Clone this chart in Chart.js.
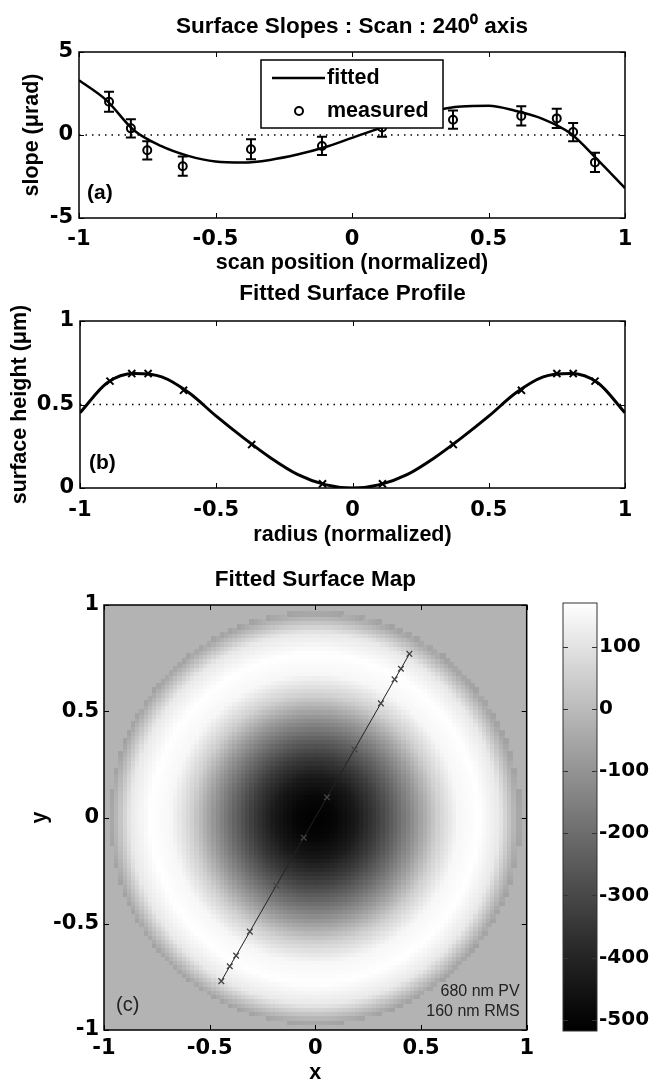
<!DOCTYPE html>
<html>
<head>
<meta charset="utf-8">
<script src="https://cdn.jsdelivr.net/npm/chart.js@4.4.0/dist/chart.umd.min.js"></script>
<style>
  html, body { margin: 0; padding: 0; background: #fff; overflow: hidden; }
  body { width: 650px; height: 1085px; position: relative; }
  canvas { position: absolute; }
  #slopeChart { left: 0; top: 0; }
  #profileChart { left: 0; top: 280px; }
  #mapChart { left: 0; top: 550px; }
  #barChart { left: 540px; top: 580px; }
</style>
</head>
<body>
<canvas id="slopeChart" width="650" height="280"></canvas>
<canvas id="profileChart" width="650" height="270"></canvas>
<canvas id="mapChart" width="540" height="540"></canvas>
<canvas id="barChart" width="110" height="470"></canvas>
<script>
// ---- data ----
const scanPos = [-0.89, -0.81, -0.75, -0.62, -0.37, -0.11, 0.11, 0.37, 0.62, 0.75, 0.81, 0.89];
const slopeMeasured = [2.0, 0.4, -0.92, -1.88, -0.86, -0.66, 0.45, 0.92, 1.15, 1.0, 0.18, -1.65];
const slopeError = [0.6, 0.55, 0.55, 0.58, 0.6, 0.55, 0.55, 0.55, 0.58, 0.58, 0.55, 0.58];

const fitPos = [-1, -0.9, -0.8, -0.7, -0.6, -0.5, -0.4, -0.3, -0.2, -0.1, 0,
                0.1, 0.2, 0.3, 0.4, 0.5, 0.6, 0.7, 0.8, 0.9, 1];
const slopeFitted = [3.3, 2.1, 0.3, -0.66, -1.26, -1.6, -1.66, -1.5, -1.18, -0.74, -0.17,
                     0.4, 0.95, 1.45, 1.72, 1.76, 1.45, 0.96, 0.1, -1.5, -3.2];
const profileHeight = [0.45, 0.63, 0.685, 0.665, 0.57, 0.43, 0.3, 0.18, 0.08, 0.02, 0.0,
                       0.02, 0.08, 0.18, 0.3, 0.43, 0.57, 0.665, 0.685, 0.63, 0.45];
const markerHeight = [0.64, 0.685, 0.685, 0.585, 0.26, 0.025, 0.025, 0.26, 0.585, 0.685, 0.685, 0.64];

// scan line across the map (240 deg axis)
const mapMarkX = [-0.445, -0.405, -0.375, -0.31, -0.185, -0.055, 0.055, 0.185, 0.31, 0.375, 0.405, 0.445];
const mapMarkY = [-0.77, -0.70, -0.65, -0.537, -0.32, -0.095, 0.095, 0.32, 0.537, 0.65, 0.70, 0.77];

const posTicks = [-1, -0.5, 0, 0.5, 1];
const slopeTicks = [-5, 0, 5];
const heightTicks = [0, 0.5, 1];
const colorTicks = [-500, -400, -300, -200, -100, 0, 100];

const colorMin = -518, colorMax = 170;   // nm, colorbar range
const mapOffsetNm = 515;                 // height at centre -> map value
const diskRadius = 0.97;
const gridStep = 0.02;

// ---- styles ----
const tickFont = { family: 'DejaVu Sans', size: 21, weight: 'bold' };
const labelFont = { family: 'Liberation Sans, Arial, sans-serif', size: 21.5, weight: 'bold' };
const titleFont = { family: 'Liberation Sans, Arial, sans-serif', size: 22.5, weight: 'bold' };
const grayGamma = 1.1;

function grayFor(v) {
    let t = (v - colorMin) / (colorMax - colorMin);
    t = Math.max(0, Math.min(1, t));
    const g = Math.round(255 * Math.pow(t, grayGamma));
    return `rgb(${g},${g},${g})`;
}

const radialPos = fitPos.slice(10);
const radialHeight = profileHeight.slice(10);
function heightAt(r) {
    for (let k = 1; k < radialPos.length; k++) {
        if (r <= radialPos[k]) {
            const t = (r - radialPos[k - 1]) / (radialPos[k] - radialPos[k - 1]);
            return radialHeight[k - 1] + t * (radialHeight[k] - radialHeight[k - 1]);
        }
    }
    return radialHeight[radialHeight.length - 1];
}

function xAxis(ticks, title, height, pad) {
    return {
        type: 'linear', min: -1, max: 1,
        afterBuildTicks: s => { s.ticks = ticks.map(v => ({ value: v })); },
        afterFit: s => { s.height = height; },
        grid: { display: false, drawTicks: false },
        border: { display: false },
        ticks: { color: '#000', font: tickFont, padding: pad, maxRotation: 0, autoSkip: false, callback: v => String(v) },
        title: { display: !!title, text: title, color: '#000', font: labelFont, padding: 0 }
    };
}

function yAxis(ticks, min, max, title, width, titlePad, pad) {
    return {
        type: 'linear', min: min, max: max,
        afterBuildTicks: s => { s.ticks = ticks.map(v => ({ value: v })); },
        afterFit: s => { s.width = width; },
        grid: { display: false, drawTicks: false },
        border: { display: false },
        ticks: { color: '#000', font: tickFont, padding: pad, autoSkip: false, callback: v => String(v) },
        title: { display: !!title, text: title, color: '#000', font: labelFont, padding: { top: titlePad, bottom: 0 } }
    };
}

// box round the plot with inward ticks on all sides
const framePlugin = {
    id: 'frame',
    afterDatasetsDraw(chart, args, opts) {
        const { ctx, chartArea: a, scales } = chart;
        const len = 5;
        ctx.save();
        ctx.strokeStyle = opts.color || '#000';
        ctx.lineWidth = 1;
        ctx.beginPath();
        if (opts.xTicks !== false) {
            scales.x.ticks.forEach(t => {
                const px = Math.round(scales.x.getPixelForValue(t.value)) + 0.5;
                ctx.moveTo(px, a.bottom); ctx.lineTo(px, a.bottom - len);
                ctx.moveTo(px, a.top); ctx.lineTo(px, a.top + len);
            });
        }
        scales.y.ticks.forEach(t => {
            const py = Math.round(scales.y.getPixelForValue(t.value)) + 0.5;
            ctx.moveTo(a.left, py); ctx.lineTo(a.left + len, py);
            ctx.moveTo(a.right, py); ctx.lineTo(a.right - len, py);
        });
        ctx.stroke();
        ctx.lineWidth = opts.width || 1.5;
        ctx.strokeRect(a.left, a.top, a.width, a.height);
        ctx.restore();
    }
};

const errorBarPlugin = {
    id: 'errorBars',
    afterDatasetsDraw(chart) {
        const { ctx, scales: { x, y } } = chart;
        chart.data.datasets.forEach(ds => {
            if (!ds.errors) return;
            ctx.save();
            ctx.strokeStyle = '#000';
            ctx.lineWidth = 2;
            ds.data.forEach((p, i) => {
                const px = x.getPixelForValue(p.x);
                const top = y.getPixelForValue(p.y + ds.errors[i]);
                const bot = y.getPixelForValue(p.y - ds.errors[i]);
                ctx.beginPath();
                ctx.moveTo(px, top); ctx.lineTo(px, bot);
                ctx.moveTo(px - 5, top); ctx.lineTo(px + 5, top);
                ctx.moveTo(px - 5, bot); ctx.lineTo(px + 5, bot);
                ctx.stroke();
            });
            ctx.restore();
        });
    }
};

// boxed legend inside the slope plot
const legendBoxPlugin = {
    id: 'legendBox',
    afterDraw(chart, args, o) {
        const { ctx, chartArea: a } = chart;
        const left = a.left + o.left, top = a.top + o.top;
        const fit = chart.data.datasets[0], meas = chart.data.datasets[1];
        ctx.save();
        ctx.fillStyle = '#fff';
        ctx.fillRect(left, top, o.width, o.height);
        ctx.strokeStyle = '#000';
        ctx.lineWidth = 1.5;
        ctx.strokeRect(left, top, o.width, o.height);
        ctx.lineWidth = fit.borderWidth;
        ctx.beginPath();
        ctx.moveTo(left + 11, top + 18); ctx.lineTo(left + 64, top + 18);
        ctx.stroke();
        ctx.lineWidth = 2;
        ctx.beginPath();
        ctx.arc(left + 38, top + 51, 4, 0, Math.PI * 2);
        ctx.stroke();
        ctx.fillStyle = '#000';
        ctx.font = `bold ${labelFont.size}px ${labelFont.family}`;
        ctx.textBaseline = 'middle';
        ctx.fillText(fit.label, left + 66, top + 18);
        ctx.fillText(meas.label, left + 66, top + 51);
        ctx.restore();
    }
};

const panelTextPlugin = {
    id: 'panelText',
    afterDraw(chart, args, o) {
        const { ctx, chartArea: a } = chart;
        ctx.save();
        (o.items || []).forEach(it => {
            ctx.font = it.font;
            ctx.fillStyle = it.color || '#000';
            ctx.textBaseline = 'middle';
            ctx.textAlign = it.right ? 'right' : 'left';
            const x = it.right ? a.right - it.dx : a.left + it.dx;
            ctx.fillText(it.text, x, a.bottom - it.dy);
        });
        ctx.restore();
    }
};

// grayscale surface map cells, placed through the chart scales
const surfacePlugin = {
    id: 'surface',
    beforeDatasetsDraw(chart) {
        const { ctx, chartArea: a, scales: { x, y } } = chart;
        ctx.save();
        ctx.beginPath();
        ctx.rect(a.left, a.top, a.width, a.height);
        ctx.clip();
        ctx.fillStyle = '#b3b3b3';
        ctx.fillRect(a.left, a.top, a.width, a.height);
        const n = Math.round(2 / gridStep);
        for (let i = 0; i <= n; i++) {
            const cx = -1 + i * gridStep;
            const x0 = x.getPixelForValue(cx - gridStep / 2);
            const x1 = x.getPixelForValue(cx + gridStep / 2);
            for (let j = 0; j <= n; j++) {
                const cy = -1 + j * gridStep;
                const r = Math.hypot(cx, cy);
                if (r > diskRadius) continue;
                const v = heightAt(r / diskRadius) * 1000 - mapOffsetNm;
                const y0 = y.getPixelForValue(cy + gridStep / 2);
                const y1 = y.getPixelForValue(cy - gridStep / 2);
                ctx.fillStyle = grayFor(v);
                ctx.fillRect(Math.floor(x0), Math.floor(y0), Math.ceil(x1 - x0) + 1, Math.ceil(y1 - y0) + 1);
            }
        }
        ctx.restore();
    }
};

const gradientPlugin = {
    id: 'gradientBar',
    beforeDatasetsDraw(chart) {
        const { ctx, chartArea: a, scales: { y } } = chart;
        const steps = 40;
        const g = ctx.createLinearGradient(0, y.getPixelForValue(colorMin), 0, y.getPixelForValue(colorMax));
        for (let k = 0; k <= steps; k++) {
            g.addColorStop(k / steps, grayFor(colorMin + (colorMax - colorMin) * k / steps));
        }
        ctx.save();
        ctx.fillStyle = g;
        ctx.fillRect(a.left, a.top, a.width, a.height);
        ctx.restore();
    }
};

const common = {
    responsive: false,
    animation: false,
    events: []
};

// (a) surface slopes
new Chart(document.getElementById('slopeChart'), {
    type: 'scatter',
    data: {
        datasets: [
            {
                label: 'fitted', type: 'line',
                data: fitPos.map((x, i) => ({ x, y: slopeFitted[i] })),
                borderColor: '#000', borderWidth: 2.5, pointRadius: 0,
                cubicInterpolationMode: 'monotone', fill: false
            },
            {
                label: 'measured',
                data: scanPos.map((x, i) => ({ x, y: slopeMeasured[i] })),
                errors: slopeError,
                pointStyle: 'circle', pointRadius: 4, borderWidth: 2,
                borderColor: '#000', backgroundColor: 'rgba(0,0,0,0)'
            },
            {
                label: 'zero', type: 'line',
                data: [{ x: -1, y: 0 }, { x: 1, y: 0 }],
                borderColor: '#000', borderWidth: 1.5, borderDash: [1.5, 5], pointRadius: 0
            }
        ]
    },
    options: {
        ...common,
        layout: { padding: { left: 0, right: 25, top: 0, bottom: 4 } },
        scales: {
            x: xAxis(posTicks, 'scan position (normalized)', 58, 9),
            y: yAxis(slopeTicks, -5, 5, 'slope (\u03bcrad)', 79, 19.1, 6)
        },
        plugins: {
            legend: { display: false },
            tooltip: { enabled: false },
            title: {
                display: true, fullSize: false, color: '#000',
                text: 'Surface Slopes : Scan : 240\u2070 axis',
                font: titleFont, padding: { top: 13.5, bottom: 11.5 }
            },
            legendBox: { left: 182, top: 8, width: 182, height: 68 },
            panelText: { items: [{ text: '(a)', dx: 8, dy: 25, font: `bold 21px ${labelFont.family}` }] }
        }
    },
    plugins: [errorBarPlugin, framePlugin, legendBoxPlugin, panelTextPlugin]
});

// (b) fitted surface profile
new Chart(document.getElementById('profileChart'), {
    type: 'scatter',
    data: {
        datasets: [
            {
                label: 'profile', type: 'line',
                data: fitPos.map((x, i) => ({ x, y: profileHeight[i] })),
                borderColor: '#000', borderWidth: 3, pointRadius: 0,
                cubicInterpolationMode: 'monotone', fill: false
            },
            {
                label: 'samples',
                data: scanPos.map((x, i) => ({ x, y: markerHeight[i] })),
                pointStyle: 'crossRot', pointRadius: 5, borderWidth: 2, borderColor: '#000'
            },
            {
                label: 'half', type: 'line',
                data: [{ x: -1, y: 0.5 }, { x: 1, y: 0.5 }],
                borderColor: '#000', borderWidth: 1.5, borderDash: [1.5, 5], pointRadius: 0
            }
        ]
    },
    options: {
        ...common,
        layout: { padding: { left: 0, right: 25, top: 0, bottom: 2 } },
        scales: {
            x: xAxis(posTicks, 'radius (normalized)', 60, 10),
            y: yAxis(heightTicks, 0, 1, 'surface height (\u03bcm)', 80, 7.1, 6)
        },
        plugins: {
            legend: { display: false },
            tooltip: { enabled: false },
            title: {
                display: true, fullSize: false, color: '#000',
                text: 'Fitted Surface Profile',
                font: titleFont, padding: { top: 0.5, bottom: 13.5 }
            },
            panelText: { items: [{ text: '(b)', dx: 9, dy: 25, font: `bold 21px ${labelFont.family}` }] }
        }
    },
    plugins: [framePlugin, panelTextPlugin]
});

// (c) fitted surface map
new Chart(document.getElementById('mapChart'), {
    type: 'scatter',
    data: {
        datasets: [{
            label: 'scan',
            data: mapMarkX.map((x, i) => ({ x, y: mapMarkY[i] })),
            showLine: true, borderColor: '#222', borderWidth: 1,
            pointStyle: 'crossRot', pointRadius: 4, pointBorderWidth: 1.3,
            pointBorderColor: '#444'
        }]
    },
    options: {
        ...common,
        layout: { padding: { left: 0, right: 10, top: 0, bottom: 4 } },
        scales: {
            x: xAxis(posTicks, 'x', 56, 6),
            y: yAxis(posTicks, -1, 1, 'y', 104, 27.1, 5)
        },
        plugins: {
            legend: { display: false },
            tooltip: { enabled: false },
            title: {
                display: true, fullSize: false, color: '#000',
                text: 'Fitted Surface Map',
                font: titleFont, padding: { top: 16.5, bottom: 11.5 }
            },
            panelText: {
                items: [
                    { text: '(c)', dx: 12, dy: 25, font: `20px ${labelFont.family}`, color: '#222' },
                    { text: '680 nm PV', dx: 7, dy: 38, right: true, font: `16px ${labelFont.family}`, color: '#222' },
                    { text: '160 nm RMS', dx: 7, dy: 18, right: true, font: `16px ${labelFont.family}`, color: '#222' }
                ]
            }
        }
    },
    plugins: [surfacePlugin, framePlugin, panelTextPlugin]
});

// colorbar
new Chart(document.getElementById('barChart'), {
    type: 'scatter',
    data: { datasets: [] },
    options: {
        ...common,
        layout: { padding: { left: 23, right: 0, top: 23, bottom: 19 } },
        scales: {
            x: { type: 'linear', min: 0, max: 1, display: false },
            y: {
                ...yAxis(colorTicks, colorMin, colorMax, '', 53, 0, 2),
                position: 'right',
                ticks: { color: '#000', font: { ...tickFont, size: 20 }, padding: 2, autoSkip: false, callback: v => String(v) }
            }
        },
        plugins: {
            legend: { display: false },
            tooltip: { enabled: false },
            frame: { xTicks: false, color: '#333', width: 1 }
        }
    },
    plugins: [gradientPlugin, framePlugin]
});
</script>
</body>
</html>
